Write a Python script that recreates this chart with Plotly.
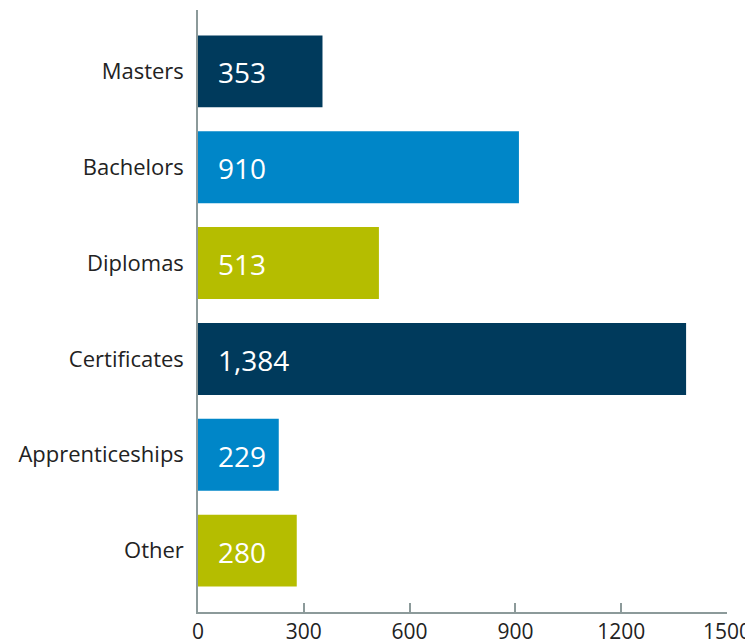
import plotly.graph_objects as go

categorias = ['Masters', 'Bachelors', 'Diplomas', 'Certificates', 'Apprenticeships', 'Other']
valores = [353, 910, 513, 1384, 229, 280]
cores = ['#003a5c', '#0086c8', '#b5bd00', '#003a5c', '#0086c8', '#b5bd00']
x_ticks = [0, 300, 600, 900, 1200, 1500]

fonte = 'Open Sans'

fig = go.Figure(go.Bar(
    x=valores, y=categorias, orientation='h',
    marker=dict(color=cores, line_width=0),
    width=0.75,
    hoverinfo='skip'
))

# rótulos de valor dentro das barras
for cat, v in zip(categorias, valores):
    fig.add_annotation(
        x=0, y=cat, text=f'{v:,}', showarrow=False,
        xanchor='left', xshift=18, yshift=-1,
        font=dict(family=fonte, size=28, color='white')
    )

# a página tem 8px de margem no body, compensado aqui
fig.update_layout(
    width=753, height=641,
    margin=dict(l=190, r=34, t=2, b=37),
    paper_bgcolor='white', plot_bgcolor='white',
    showlegend=False,
    font=dict(family=fonte, color='#222222'),
    xaxis=dict(
        range=[0, 1500], tickvals=x_ticks, ticktext=[str(t) for t in x_ticks],
        showgrid=False, zeroline=False, automargin=False,
        showline=True, linecolor='#8c9a9a', linewidth=1.5,
        ticks='inside', ticklen=9, tickcolor='#8c9a9a', tickwidth=1.5,
        tickfont=dict(size=21, color='#222222'),
    ),
    yaxis=dict(
        categoryorder='array', categoryarray=categorias,
        range=[5.64, -0.64],
        showgrid=False, zeroline=False, automargin=False,
        showline=True, linecolor='#8c9a9a', linewidth=1.5,
        ticks='', ticklabelstandoff=8,
        tickfont=dict(size=22, color='#222222'),
    ),
)

fig.write_html('out.html')
